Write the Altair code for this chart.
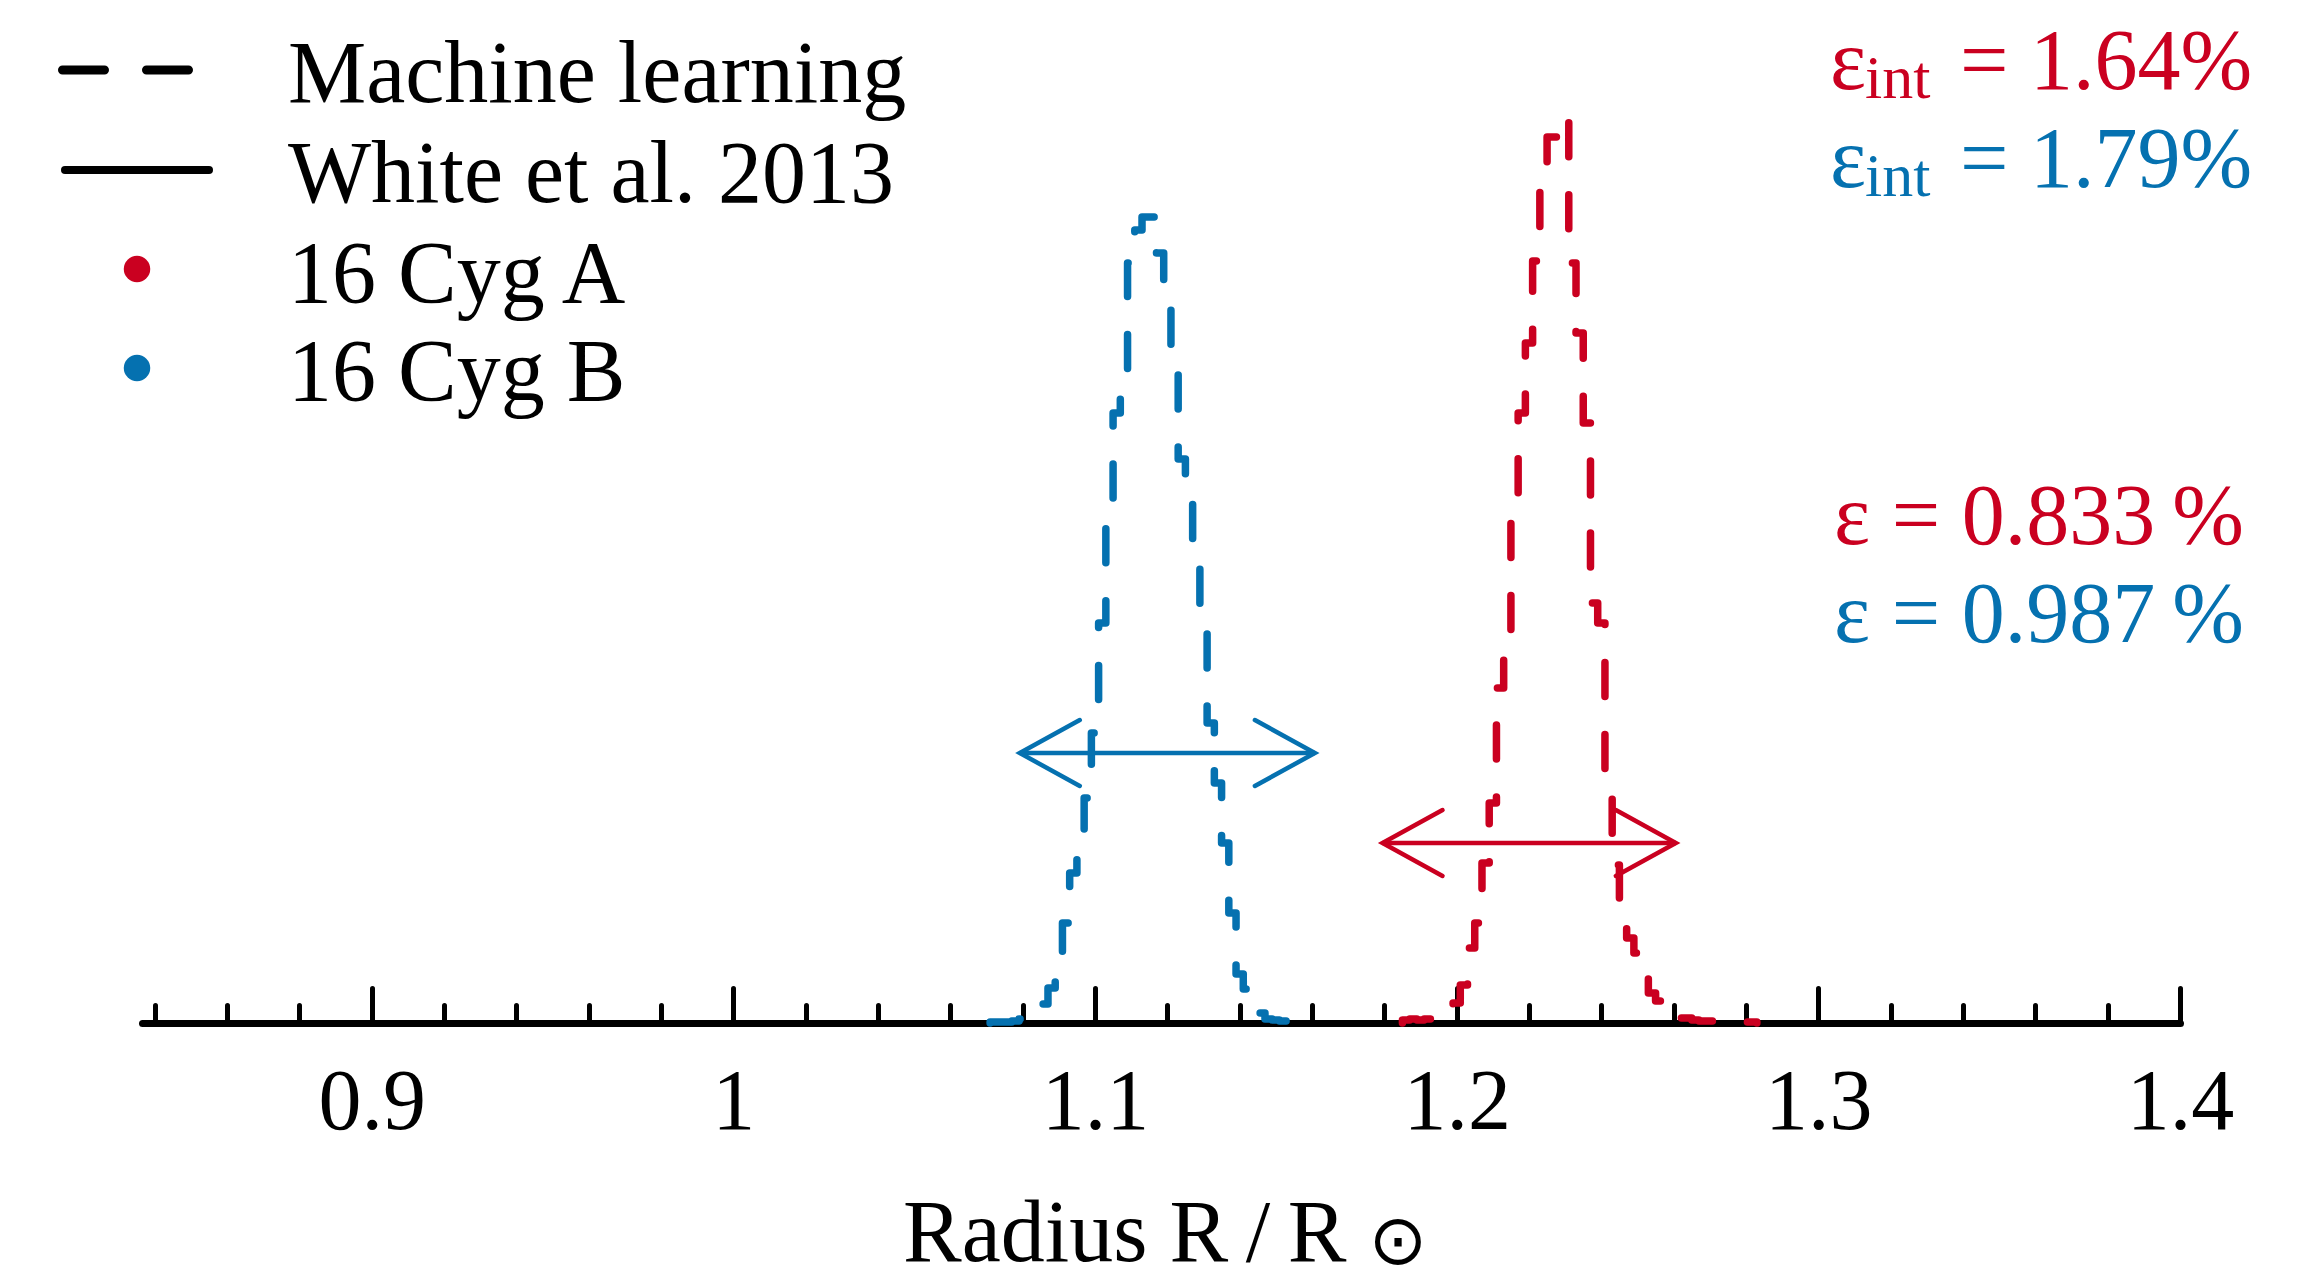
import altair as alt
import pandas as pd

RED = "#ca0020"
BLUE = "#0571b0"
SERIF = "Liberation Serif"

# ---- data ----
stars = ["16 Cyg A", "16 Cyg B"]
star_colors = [RED, BLUE]

bin_width = 0.002
# ML posterior histogram heights (relative units), 16 Cyg B
blue_start = 1.071
blue_counts = [1, 1, 1, 2, 4, 6, 12, 19, 35, 45, 100, 150, 165, 225, 290, 400, 500, 610,
               650, 760, 793, 806, 806, 770, 734, 670, 564, 544, 480, 404, 300, 240, 180,
               110, 49, 34, 24, 10, 4, 3, 2, 1, 1]
# ML posterior histogram heights (relative units), 16 Cyg A
red_start = 1.185
red_counts = [3, 4, 3, 4, 5, 6, 8, 20, 38, 75, 100, 160, 220, 335, 370, 510, 610, 680,
              762, 840, 886, 886, 906, 760, 690, 600, 420, 400, 250, 158, 120, 85, 70, 45,
              30, 22, 8, 5, 5, 5, 3, 2, 2, 1, 2, 1, 1, 1, 1]

# White et al. 2013 intervals
white_lo = [1.1795, 1.0792]
white_hi = [1.2606, 1.1608]
arrow_level = [180, 270]

eps_int = ["1.64%", "1.79%"]
eps_val = ["0.833\u2009%", "0.987\u2009%"]

legend_labels = ["Machine learning", "White et al. 2013", "16 Cyg A", "16 Cyg B"]

major_ticks = [0.9, 1.0, 1.1, 1.2, 1.3, 1.4]
minor_ticks = [0.84, 0.86, 0.88, 0.92, 0.94, 0.96, 0.98, 1.02, 1.04, 1.06, 1.08,
               1.12, 1.14, 1.16, 1.18, 1.22, 1.24, 1.26, 1.28, 1.32, 1.34, 1.36, 1.38]

x_domain = [0.8365, 1.4]
y_domain = [0, 1000]
W, H = 2038, 1000


def step_rows(star, start, counts):
    rows = [dict(star=star, x=start, h=0, i=0)]
    for k, c in enumerate(counts):
        rows.append(dict(star=star, x=round(start + k * bin_width, 4), h=c, i=k + 1))
    rows.append(dict(star=star, x=round(start + len(counts) * bin_width, 4), h=0,
                     i=len(counts) + 1))
    return rows


hist = pd.DataFrame(step_rows(stars[0], red_start, red_counts)
                    + step_rows(stars[1], blue_start, blue_counts))
arrows = pd.DataFrame({"star": stars, "lo": white_lo, "hi": white_hi, "lvl": arrow_level})
one = pd.DataFrame({"k": [0]})

xscale = alt.Scale(domain=x_domain, nice=False, zero=False)
yscale = alt.Scale(domain=y_domain, nice=False, zero=False)
cscale = alt.Scale(domain=stars, range=star_colors)

axis_labels = alt.Axis(values=major_ticks, format=".1~f", ticks=False, tickSize=0,
                       domain=False, labelFont=SERIF, labelFontSize=86,
                       labelColor="black", labelPadding=105, labelBaseline="alphabetic",
                       labelFlush=False, labelOverlap=False, title=None, grid=False)
axis_major = alt.Axis(orient="top", offset=-H, values=major_ticks, labels=False,
                      ticks=True, tickSize=35, tickWidth=5, tickColor="black",
                      tickCap="round", domain=True, domainWidth=7, domainColor="black",
                      domainCap="round", title=None, grid=False)
axis_minor = alt.Axis(orient="top", offset=-H, values=minor_ticks, labels=False,
                      ticks=True, tickSize=18, tickWidth=5, tickColor="black",
                      tickCap="round", domain=False, title=None, grid=False)

hist_layer = alt.Chart(hist).mark_line(
    interpolate="step-after", strokeWidth=7.5, strokeDash=[34, 38], strokeCap="round",
    strokeJoin="round"
).encode(
    x=alt.X("x:Q", scale=xscale, axis=axis_labels),
    y=alt.Y("h:Q", scale=yscale, axis=None),
    color=alt.Color("star:N", scale=cscale, legend=None),
    detail="star:N",
    order=alt.Order("i:Q"),
)

arrow_rule = alt.Chart(arrows).mark_rule(strokeWidth=4.5).encode(
    x=alt.X("lo:Q", scale=xscale, axis=axis_major),
    x2="hi:Q",
    y=alt.Y("lvl:Q", scale=yscale, axis=None),
    color=alt.Color("star:N", scale=cscale, legend=None),
)
head_left = alt.Chart(arrows).mark_point(
    shape="M1,-0.55L0,0L1,0.55", size=14400, filled=False, strokeWidth=4.5, opacity=1,
    strokeCap="round"
).encode(
    x=alt.X("lo:Q", scale=xscale, axis=axis_minor),
    y=alt.Y("lvl:Q", scale=yscale, axis=None),
    color=alt.Color("star:N", scale=cscale, legend=None),
)
head_right = alt.Chart(arrows).mark_point(
    shape="M-1,-0.55L0,0L-1,0.55", size=14400, filled=False, strokeWidth=4.5, opacity=1,
    strokeCap="round"
).encode(
    x=alt.X("hi:Q", scale=xscale, axis=None),
    y=alt.Y("lvl:Q", scale=yscale, axis=None),
    color=alt.Color("star:N", scale=cscale, legend=None),
)


def txt(s, x, y, size, color="black", align="left", baseline="alphabetic", font=SERIF):
    return alt.Chart(one).mark_text(
        text=s, align=align, baseline=baseline, font=font, fontSize=size, color=color
    ).encode(x=alt.value(x), y=alt.value(y))


def hline(x1, x2, y, width, dash=None):
    kw = dict(strokeWidth=width, color="black", strokeCap="round")
    if dash:
        kw["strokeDash"] = dash
    return alt.Chart(one).mark_rule(**kw).encode(
        x=alt.value(x1), x2=alt.value(x2), y=alt.value(y))


def dot(x, y, color):
    return alt.Chart(one).mark_point(
        shape="circle", size=700, filled=True, opacity=1, color=color
    ).encode(x=alt.value(x), y=alt.value(y))


legend = [
    hline(-79.5, 46.5, 47, 9, [42, 42]),
    hline(-77, 67, 147, 8),
    dot(-5, 246, RED),
    dot(-5, 345, BLUE),
    txt(legend_labels[0], 146, 79, 88),
    txt(legend_labels[1], 146, 179, 88),
    txt(legend_labels[2], 146, 279, 88),
    txt(legend_labels[3], 146, 377, 88),
]

annot = []
for j, (c, v) in enumerate(zip(star_colors, eps_int)):
    base = 66 + 98 * j
    annot += [
        txt("\u03b5", 1688, base, 86, c),
        txt("int", 1723, base + 9, 62, c),
        txt("= " + v, 1818, base, 86, c),
    ]
for j, (c, v) in enumerate(zip(star_colors, eps_val)):
    annot.append(txt("\u03b5 = " + v, 2102, 521 + 98 * j, 86, c, align="right"))

xtitle = [
    txt("Radius R\u2009/\u2009R", 761, 1238, 88),
    txt("\u2299", 1256, 1220, 70, align="center", baseline="middle",
        font="DejaVu Sans"),
]

chart = alt.layer(
    hist_layer, arrow_rule, head_left, head_right, *legend, *annot, *xtitle
).resolve_axis(x="independent").properties(
    width=W, height=H,
    padding={"left": 134, "top": 15, "right": 100, "bottom": 256},
    autosize=alt.AutoSizeParams(type="none"),
).configure_view(stroke=None).configure_axis(grid=False)

chart.save("out.html", embed_options={"renderer": "svg", "actions": False})
